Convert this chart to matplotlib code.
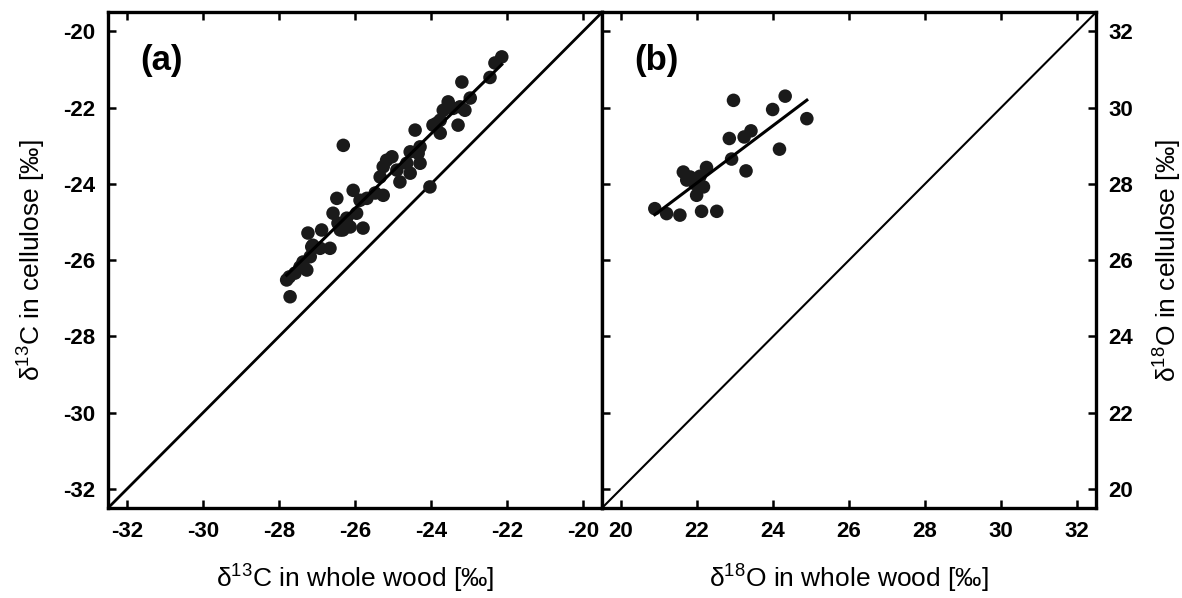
import numpy as np
import matplotlib
matplotlib.use("Agg")
import matplotlib.pyplot as plt

plt.rcParams['font.family'] = ['Liberation Sans', 'DejaVu Sans']
plt.rcParams['mathtext.fontset'] = 'custom'
plt.rcParams['mathtext.rm'] = 'Liberation Sans'
plt.rcParams['axes.unicode_minus'] = False

# panel (a): d13C whole wood vs cellulose
c13_wood = [-27.71, -27.73, -27.58, -27.45, -27.27, -27.37, -27.18, -27.14, -26.92, -26.66,
            -27.24, -26.88, -26.48, -26.58, -26.45, -26.32, -26.13, -25.96, -25.79, -26.05,
            -25.87, -25.69, -25.47, -26.31, -25.26, -25.34, -25.26, -25.17, -25.03, -24.90,
            -24.82, -24.64, -24.55, -24.55, -24.34, -24.29, -24.03, -24.42, -24.29, -23.85,
            -23.76, -23.76, -23.95, -23.68, -23.55, -23.42, -23.24, -23.11, -23.29, -23.19,
            -22.97, -22.45, -22.32, -22.14, -26.22, -27.11, -27.80, -26.39]
c13_cell = [-26.96, -26.44, -26.34, -26.18, -26.26, -26.05, -25.91, -25.65, -25.69, -25.69,
            -25.29, -25.21, -24.38, -24.77, -25.03, -25.21, -25.13, -24.77, -25.16, -24.17,
            -24.43, -24.38, -24.24, -22.99, -24.30, -23.82, -23.55, -23.38, -23.29, -23.64,
            -23.95, -23.46, -23.16, -23.72, -23.20, -23.46, -24.08, -22.59, -23.03, -22.41,
            -22.67, -22.33, -22.46, -22.07, -21.85, -22.02, -21.98, -22.07, -22.46, -21.33,
            -21.75, -21.21, -20.83, -20.67, -24.90, -25.61, -26.52, -25.21]

# panel (b): d18O whole wood vs cellulose
o18_wood = [22.96, 24.32, 23.99, 24.89, 22.85, 23.24, 23.42, 24.17, 22.91, 23.29,
            21.64, 21.82, 22.25, 22.03, 22.17, 21.99, 21.73, 20.89, 21.20, 21.55,
            22.12, 22.52, 21.95, 22.08]
o18_cell = [30.19, 30.30, 29.95, 29.71, 29.19, 29.23, 29.39, 28.91, 28.65, 28.34,
            28.31, 28.18, 28.43, 28.10, 27.92, 27.70, 28.10, 27.35, 27.22, 27.18,
            27.28, 27.28, 28.00, 28.20]

c13_ticks = [-32, -30, -28, -26, -24, -22, -20]
o18_ticks = [20, 22, 24, 26, 28, 30, 32]

fig = plt.figure(figsize=(11.82, 5.98), dpi=100)
ax1 = fig.add_axes([0.0914, 0.1505, 0.418, 0.829])
ax2 = fig.add_axes([0.5093, 0.1505, 0.418, 0.829])

dot = '#1a1a1a'

def fit_line(ax, x, y):
    x = np.array(x)
    y = np.array(y)
    k, b = np.polyfit(x, y, 1)
    xs = np.array([x.min(), x.max()])
    ax.plot(xs, k * xs + b, color='black', lw=2.2, zorder=3)

# (a)
lim_a = (-32.5, -19.5)
ax1.plot(lim_a, lim_a, color='black', lw=2.0)
ax1.scatter(c13_wood, c13_cell, s=95, color=dot, edgecolors='none', zorder=2)
fit_line(ax1, c13_wood, c13_cell)
ax1.set_xlim(lim_a)
ax1.set_ylim(lim_a)
ax1.set_xticks(c13_ticks)
ax1.set_yticks(c13_ticks)
ax1.tick_params(direction='in', length=6, width=1.8, top=True, right=False,
                labelsize=16, pad=9)
ax1.set_xlabel('δ$^{13}$C in whole wood [‰]', fontsize=19, labelpad=14)
ax1.set_ylabel('δ$^{13}$C in cellulose [‰]', fontsize=19, labelpad=12)
ax1.text(0.065, 0.935, '(a)', transform=ax1.transAxes, fontsize=25,
         fontweight='bold', va='top')

# (b)
lim_b = (19.5, 32.5)
ax2.plot(lim_b, lim_b, color='black', lw=1.5)
ax2.scatter(o18_wood, o18_cell, s=95, color=dot, edgecolors='none', zorder=2)
fit_line(ax2, o18_wood, o18_cell)
ax2.set_xlim(lim_b)
ax2.set_ylim(lim_b)
ax2.set_xticks(o18_ticks)
ax2.set_yticks(o18_ticks)
ax2.tick_params(direction='in', length=6, width=1.8, top=True, right=True, left=True,
                labelleft=False, labelright=True, labelsize=16, pad=9)
ax2.yaxis.set_label_position('right')
ax2.set_xlabel('δ$^{18}$O in whole wood [‰]', fontsize=19, labelpad=14)
ax2.set_ylabel('δ$^{18}$O in cellulose [‰]', fontsize=19, labelpad=12)
ax2.text(0.065, 0.935, '(b)', transform=ax2.transAxes, fontsize=25,
         fontweight='bold', va='top')

for ax in (ax1, ax2):
    for sp in ax.spines.values():
        sp.set_linewidth(2.4)
    for lab in ax.get_xticklabels() + ax.get_yticklabels():
        lab.set_fontweight('bold')

fig.savefig('out.png', dpi=100)
